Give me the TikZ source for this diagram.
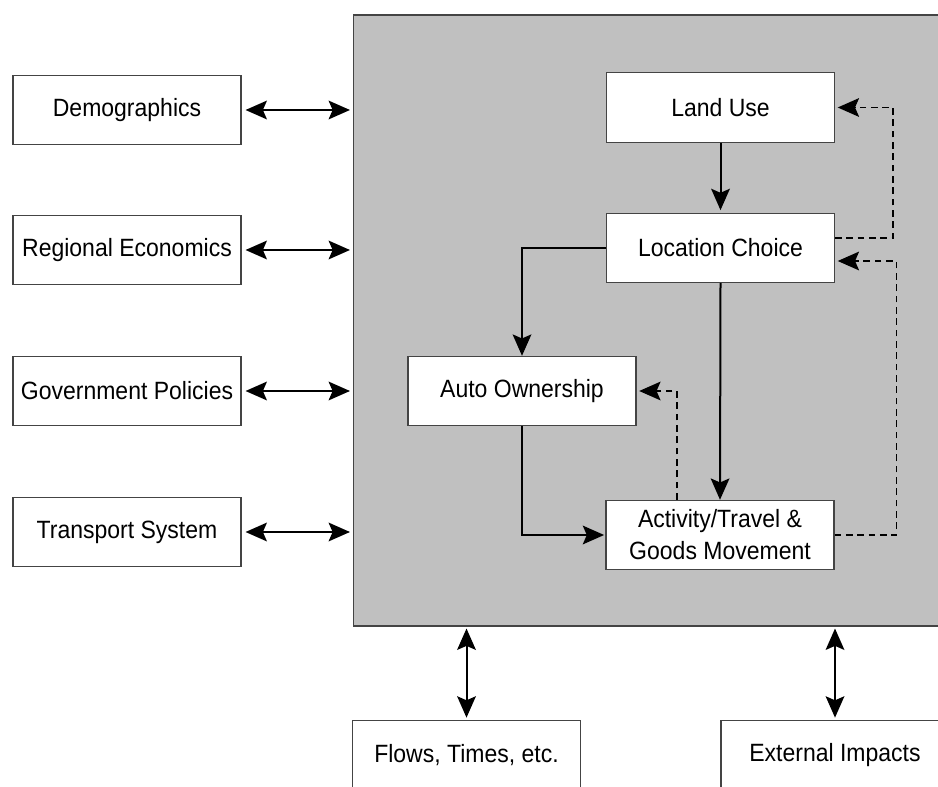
\documentclass[tikz,border=0pt]{standalone}
\usepackage{fontspec}
\setmainfont{Liberation Sans}[FakeStretch=0.92]
\usetikzlibrary{arrows.meta,calc}

\definecolor{panelgray}{HTML}{C0C0C0}
\definecolor{edgegray}{HTML}{444444}

\tikzset{
  box/.style={draw=edgegray, line width=0.8pt, fill=white, minimum width=171pt,
    minimum height=52pt, inner sep=2pt, align=center,
    font=\fontsize{18.75pt}{24pt}\selectfont},
  panel/.style={draw=edgegray, line width=0.8pt, fill=panelgray,
    minimum width=455pt, minimum height=458.25pt, inner sep=0pt},
  bighead/.tip={Stealth[length=16pt, width=14pt, inset=3pt]},
  flow/.style={line width=1.5pt, -bighead},
  both/.style={line width=1.5pt, bighead-bighead},
  feedback/.style={line width=1.3pt, dash pattern=on 5pt off 3.5pt, -bighead},
}

\begin{document}
\begin{tikzpicture}[x=0.75pt, y=-0.75pt]
  \clip (0,0) rectangle (938,787);
  \fill[white] (0,0) rectangle (938,787);

  % shaded modelling core
  \node[panel] (core) at (656.5,320.5) {};

  % outer influences
  \node[box] (dem) at (127,110) {Demographics};
  \node[box] (reg) at (127,250) {Regional Economics};
  \node[box] (gov) at (127,391) {Government Policies};
  \node[box] (trn) at (127,532) {Transport System};

  % core sub-models
  \node[box] (land) at (720.5,107.5) {Land Use};
  \node[box] (loc)  at (720.5,248)   {Location Choice};
  \node[box] (auto) at (522,391)     {Auto Ownership};
  \node[box] (act)  at (720,535)     {Activity/Travel \&\\Goods Movement};

  % outputs
  \node[box] (flw) at (466.5,755.5) {Flows, Times, etc.};
  \node[box] (ext) at (835,755.5)   {External Impacts};

  % links to the core
  \foreach \n in {dem,reg,gov,trn}
    \draw[both, shorten <=3pt, shorten >=2pt] (\n.east) -- (\n.east -| core.west);
  \draw[both, shorten <=1.5pt, shorten >=2pt] (flw.north |- core.south) -- (flw.north);
  \draw[both, shorten <=1.5pt, shorten >=2pt] (ext.north |- core.south) -- (ext.north);

  % forward chain
  \draw[flow, shorten >=2pt] (land.south) -- (loc.north);
  \draw[flow] (loc.west) -| (auto.north);
  \draw[flow] (loc.south) -- (act.north);
  \draw[flow, shorten >=1pt] (auto.south) |- (act.west);

  % feedback loops
  \draw[feedback, shorten >=2pt] ($(loc.east)+(0,-10)$) -- ($(loc.east)+(58,-10)$) |- (land.east);
  \draw[feedback, shorten >=2pt] (act.east) -- ++(62,0) |- ($(loc.east)+(0,13)$);
  \draw[feedback, shorten >=2pt] ($(act.north)+(-43,0)$) |- (auto.east);
\end{tikzpicture}
\end{document}
